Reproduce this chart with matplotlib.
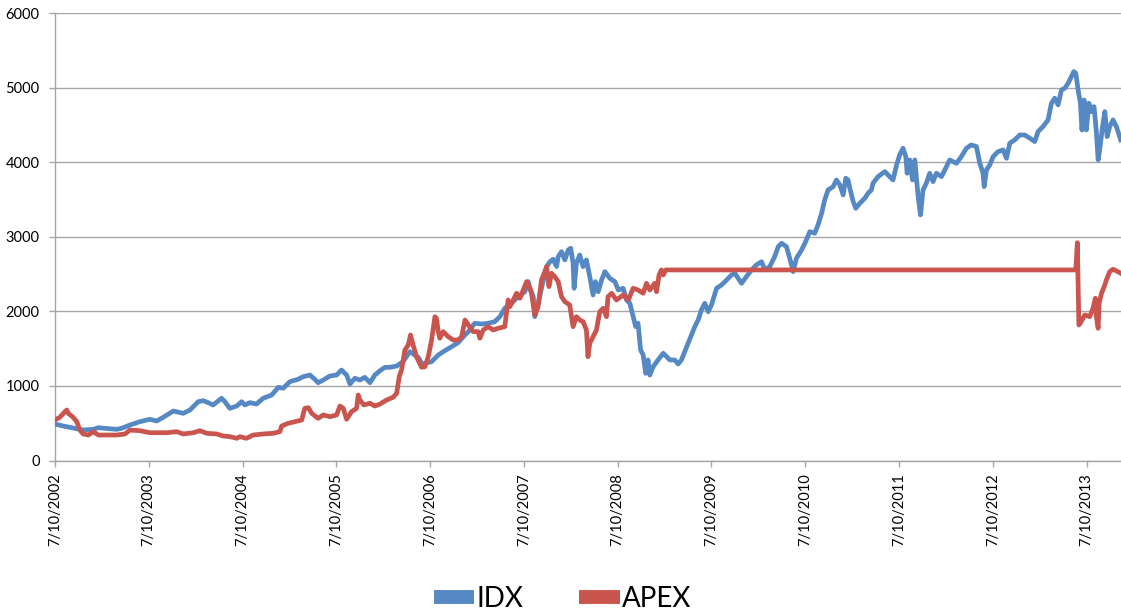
import numpy as np
import pandas as pd
import matplotlib as mpl
mpl.use('Agg')
import matplotlib.pyplot as plt
import matplotlib.transforms as mtransforms
from matplotlib.lines import Line2D

## data, dates as days after 7/10/2002
START = pd.Timestamp('2002-07-10')

idx_days = [0, 32, 78, 110, 149, 169, 240, 260, 292, 331, 370, 396, 422, 461,
            500, 526, 558, 577, 597, 616, 649, 662, 681, 708, 727, 740, 759,
            785, 811, 844, 870, 889, 915, 947, 967, 993, 1012, 1025, 1045,
            1071, 1097, 1116, 1136, 1149, 1168, 1188, 1207, 1227, 1246, 1266,
            1285, 1304, 1331, 1356, 1382, 1415, 1434, 1441, 1467, 1493, 1519,
            1545, 1570, 1597, 1610, 1635, 1662, 1687, 1713, 1733, 1752, 1778,
            1804, 1830, 1843, 1850, 1863, 1869, 1876, 1889, 1901, 1915, 1928,
            1940, 1954, 1960, 1973, 1986, 1999, 2009, 2018, 2022, 2031, 2044,
            2057, 2070, 2083, 2096, 2105, 2116, 2129, 2142, 2161, 2181, 2194,
            2213, 2226, 2239, 2252, 2262, 2271, 2281, 2291, 2301, 2310, 2317,
            2330, 2349, 2369, 2382, 2395, 2414, 2427, 2440, 2453, 2466, 2479,
            2492, 2505, 2518, 2531, 2544, 2557, 2577, 2596, 2616, 2635, 2648,
            2661, 2674, 2693, 2713, 2732, 2752, 2765, 2784, 2803, 2817, 2830,
            2849, 2869, 2875, 2888, 2908, 2921, 2940, 2959, 2972, 2986, 2998,
            3011, 3031, 3044, 3057, 3070, 3080, 3089, 3096, 3109, 3119, 3135,
            3154, 3167, 3180, 3186, 3206, 3232, 3251, 3264, 3278, 3290, 3303,
            3314, 3319, 3329, 3340, 3349, 3362, 3371, 3381, 3394, 3407, 3420,
            3433, 3453, 3472, 3485, 3511, 3530, 3550, 3569, 3589, 3602, 3615,
            3619, 3628, 3641, 3654, 3673, 3693, 3706, 3719, 3738, 3758, 3777,
            3797, 3816, 3829, 3848, 3868, 3881, 3894, 3907, 3920, 3933, 3946,
            3959, 3968, 3976, 3985, 3994, 4000, 4008, 4017, 4027, 4037, 4047,
            4056, 4063, 4069, 4080, 4089, 4098, 4108, 4121, 4134, 4151]
idx_vals = [490, 463, 432, 409, 418, 440, 418, 432, 476, 521, 553, 530, 580,
            664, 633, 678, 789, 803, 776, 745, 835, 789, 700, 731, 789, 745,
            776, 758, 835, 879, 982, 969, 1058, 1090, 1125, 1147, 1090, 1044,
            1080, 1134, 1147, 1214, 1147, 1027, 1103, 1080, 1116, 1044, 1147,
            1205, 1250, 1250, 1268, 1326, 1460, 1385, 1268, 1304, 1326, 1416,
            1474, 1527, 1581, 1684, 1729, 1841, 1832, 1841, 1863, 1930, 2042,
            2110, 2198, 2265, 2400, 2311, 2198, 1930, 2020, 2221, 2400, 2601,
            2668, 2700, 2601, 2735, 2802, 2691, 2825, 2848, 2646, 2311, 2646,
            2758, 2601, 2691, 2467, 2221, 2400, 2265, 2422, 2534, 2445, 2400,
            2288, 2311, 2154, 2110, 1930, 1796, 1841, 1483, 1416, 1170, 1349,
            1147, 1259, 1349, 1439, 1393, 1349, 1349, 1295, 1349, 1460, 1573,
            1684, 1796, 1885, 2020, 2110, 1997, 2087, 2311, 2355, 2422, 2489,
            2512, 2445, 2378, 2467, 2557, 2624, 2668, 2557, 2601, 2735, 2869,
            2915, 2869, 2624, 2534, 2714, 2825, 2915, 3071, 3049, 3160, 3317,
            3496, 3630, 3675, 3764, 3697, 3563, 3787, 3764, 3653, 3473, 3384,
            3452, 3518, 3586, 3630, 3720, 3809, 3876, 3809, 3764, 3966, 4100,
            4190, 4077, 3854, 4033, 3764, 4033, 3540, 3295, 3630, 3720, 3854,
            3742, 3854, 3809, 3943, 4033, 3988, 4077, 4190, 4234, 4212, 3988,
            3854, 3675, 3899, 3966, 4077, 4144, 4167, 4055, 4257, 4301, 4368,
            4368, 4324, 4279, 4413, 4480, 4570, 4794, 4861, 4771, 4972, 4995,
            5062, 5151, 5218, 5196, 4972, 4794, 4435, 4838, 4435, 4794, 4681,
            4748, 4413, 4033, 4167, 4480, 4681, 4346, 4480, 4570, 4480, 4301]

apex_days = [0, 19, 39, 46, 52, 71, 85, 97, 110, 130, 149, 169, 240, 273, 292,
             331, 370, 435, 474, 500, 539, 565, 591, 630, 655, 681, 708, 720,
             746, 772, 811, 850, 876, 883, 908, 935, 961, 973, 987, 1000, 1025,
             1045, 1071, 1097, 1110, 1123, 1136, 1155, 1175, 1181, 1188, 1203,
             1227, 1246, 1266, 1292, 1317, 1331, 1341, 1350, 1363, 1376, 1385,
             1395, 1408, 1428, 1441, 1454, 1467, 1480, 1486, 1493, 1499, 1512,
             1532, 1551, 1570, 1584, 1597, 1610, 1629, 1648, 1655, 1668, 1687,
             1707, 1726, 1752, 1765, 1772, 1785, 1798, 1811, 1824, 1837, 1850,
             1856, 1869, 1882, 1895, 1908, 1915, 1924, 1934, 1947, 1960, 1973,
             1986, 2005, 2018, 2031, 2044, 2057, 2070, 2076, 2083, 2096, 2109,
             2122, 2135, 2148, 2154, 2168, 2187, 2213, 2233, 2252, 2271, 2291,
             2304, 2317, 2336, 2343, 2353, 2362, 2369, 2379, 3976, 3982, 3985,
             3988, 3997, 4011, 4030, 4043, 4052, 4056, 4063, 4067, 4076, 4089,
             4095, 4108, 4121, 4140, 4151]
apex_vals = [543, 580, 655, 678, 633, 580, 521, 409, 356, 342, 387, 342, 342,
             356, 409, 400, 373, 373, 387, 356, 373, 400, 365, 356, 329, 320,
             298, 320, 298, 342, 356, 365, 387, 463, 499, 521, 543, 700, 709,
             633, 566, 611, 588, 611, 731, 700, 553, 655, 700, 879, 812, 745,
             768, 731, 758, 812, 848, 902, 1125, 1214, 1483, 1550, 1684, 1550,
             1393, 1251, 1259, 1393, 1617, 1930, 1908, 1729, 1640, 1729, 1661,
             1617, 1617, 1661, 1885, 1818, 1729, 1729, 1640, 1751, 1796, 1751,
             1774, 1796, 2154, 2064, 2154, 2244, 2177, 2288, 2400, 2311, 2244,
             1953, 2064, 2422, 2534, 2601, 2333, 2512, 2467, 2400, 2198, 2131,
             2087, 1796, 1930, 1885, 1863, 1751, 1393, 1573, 1661, 1751, 1997,
             2042, 1930, 2198, 2244, 2154, 2221, 2154, 2311, 2288, 2244, 2378,
             2288, 2378, 2265, 2489, 2557, 2489, 2557, 2557, 2923, 2378, 1818,
             1863, 1953, 1930, 2042, 2177, 1930, 1774, 2110, 2244, 2355, 2422,
             2534, 2566, 2534, 2512]

tick_years = list(range(2002, 2014))
y_ticks = [0, 1000, 2000, 3000, 4000, 5000, 6000]

BLUE = '#5689C4'
RED = '#C9554E'
GRID = '#A6A6A6'


def to_dates(days):
    return START + pd.to_timedelta(np.asarray(days), unit='D')


def main():
    plt.rcParams['font.family'] = ['Lato', 'DejaVu Sans']

    fig = plt.figure(figsize=(11.21, 6.11), dpi=100)
    ax = fig.add_axes([0.049, 0.2463, 0.951, 0.7319])

    ax.plot(to_dates(idx_days), idx_vals, color=BLUE, lw=3.4,
            solid_joinstyle='round', label='IDX', zorder=3)
    ax.plot(to_dates(apex_days), apex_vals, color=RED, lw=3.4,
            solid_joinstyle='round', label='APEX', zorder=3)

    ax.set_ylim(0, 6000)
    ax.set_yticks(y_ticks)
    ax.set_yticklabels([str(v) for v in y_ticks], fontsize=10.5)
    ax.set_xlim(START, START + pd.Timedelta(days=4152))

    ticks = [pd.Timestamp('{}-07-10'.format(y)) for y in tick_years]
    ax.set_xticks(ticks)
    ax.set_xticklabels(['7/10/{}'.format(y) for y in tick_years],
                       rotation=90, fontsize=10.5, va='top', ha='center')
    offset = mtransforms.ScaledTranslation(6 / 100., 0, fig.dpi_scale_trans)
    for lab in ax.get_xticklabels():
        lab.set_transform(lab.get_transform() + offset)

    ax.grid(axis='y', color=GRID, lw=1.0, zorder=0)
    ax.set_axisbelow(True)
    for side in ('top', 'right'):
        ax.spines[side].set_visible(False)
    for side in ('left', 'bottom'):
        ax.spines[side].set_color(GRID)
        ax.spines[side].set_linewidth(1.0)
    ax.tick_params(axis='both', colors=GRID, labelcolor='black',
                   length=4, width=1.0, direction='out')
    ax.tick_params(axis='y', pad=7)
    ax.tick_params(axis='x', pad=5)

    handles = [Line2D([], [], color=BLUE, lw=10, solid_capstyle='butt'),
               Line2D([], [], color=RED, lw=10, solid_capstyle='butt')]
    fig.legend(handles, ['IDX', 'APEX'], loc='center',
               bbox_to_anchor=(0.502, 0.02), ncol=2, frameon=False,
               fontsize=20, handlelength=1.45, handletextpad=0.1,
               columnspacing=2.0)

    fig.savefig('out.png', dpi=100)
    plt.close(fig)


if __name__ == '__main__':
    main()
